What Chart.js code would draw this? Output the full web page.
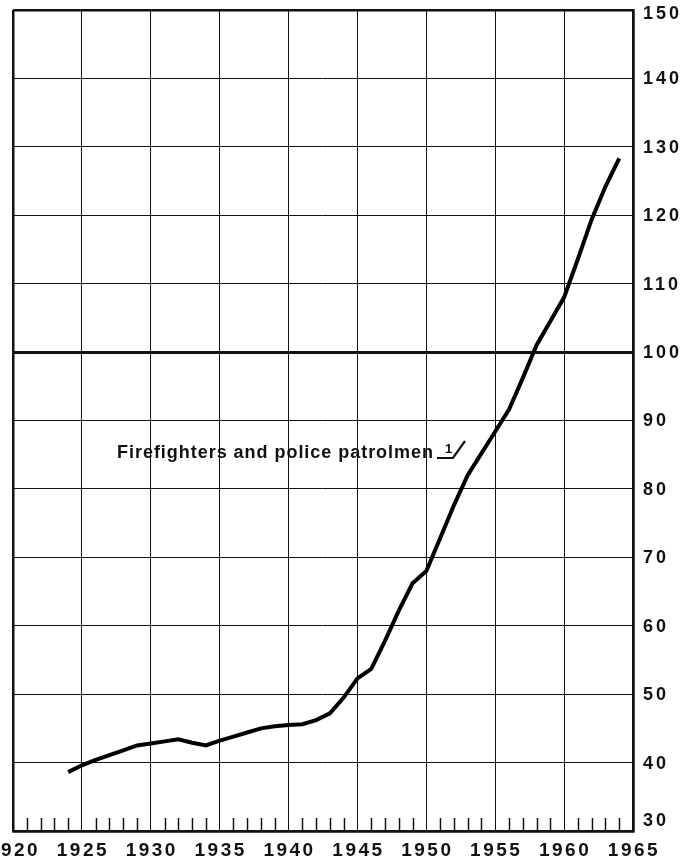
<!DOCTYPE html>
<html>
<head>
<meta charset="utf-8">
<script src="https://cdn.jsdelivr.net/npm/chart.js@4"></script>
<style>
  html, body { margin: 0; padding: 0; background: #fff; }
  #wrap { width: 691px; height: 864px; }
</style>
</head>
<body>
<div id="wrap"><canvas id="chart" width="691" height="864"></canvas></div>
<script>
// index values, firefighters and police patrolmen
const years = [1924, 1925, 1926, 1927, 1928, 1929, 1930, 1931, 1932, 1933, 1934,
               1935, 1936, 1937, 1938, 1939, 1940, 1941, 1942, 1943, 1944,
               1945, 1946, 1947, 1948, 1949, 1950, 1951, 1952, 1953, 1954,
               1955, 1956, 1957, 1958, 1959, 1960, 1961, 1962, 1963, 1964];
const values = [38.6, 39.6, 40.4, 41.1, 41.8, 42.5, 42.8, 43.1, 43.4, 42.9, 42.5,
                43.2, 43.8, 44.4, 45.0, 45.3, 45.5, 45.6, 46.2, 47.2, 49.5,
                52.3, 53.7, 57.8, 62.2, 66.2, 68.0, 72.8, 77.6, 82.0, 85.2,
                88.4, 91.6, 96.2, 101.0, 104.5, 108.0, 113.6, 119.4, 124.2, 128.3];
const xTickLabels = ['1920', '1925', '1930', '1935', '1940', '1945', '1950', '1955', '1960', '1965'];
const yTickLabels = ['30', '40', '50', '60', '70', '80', '90', '100', '110', '120', '130', '140', '150'];
const seriesLabel = 'Firefighters and police patrolmen';

const points = years.map((yr, i) => ({ x: yr, y: values[i] }));

// bottom minor ticks, labels and annotation
const paperPlugin = {
    id: 'paper',
    afterDraw: (chart) => {
        const { ctx, chartArea, scales: { x, y } } = chart;
        ctx.save();
        ctx.strokeStyle = '#111';
        ctx.lineWidth = 1.5;
        // yearly ticks at the bottom
        for (let yr = 1921; yr < 1965; yr++) {
            if (yr % 5 === 0) continue;
            const px = Math.round(x.getPixelForValue(yr)) + 0.5;
            ctx.beginPath();
            ctx.moveTo(px, chartArea.bottom);
            ctx.lineTo(px, chartArea.bottom - 13);
            ctx.stroke();
        }

        ctx.fillStyle = '#111';
        ctx.textBaseline = 'middle';
        // x labels
        ctx.font = 'bold 19px "Liberation Sans", Arial, sans-serif';
        ctx.letterSpacing = '2.5px';
        ctx.textAlign = 'center';
        xTickLabels.forEach((t) => {
            ctx.fillText(t, x.getPixelForValue(Number(t)) + 1, chartArea.bottom + 20);
        });
        // y labels on the right
        ctx.font = 'bold 18px "Liberation Sans", Arial, sans-serif';
        ctx.letterSpacing = '3px';
        ctx.textAlign = 'left';
        yTickLabels.forEach((t) => {
            let py = y.getPixelForValue(Number(t));
            if (t === '30') py -= 11;
            if (t === '150') py += 3;
            ctx.fillText(t, chartArea.right + 10, py + 1);
        });

        // series label
        ctx.font = 'bold 18px "Liberation Sans Narrow", "Liberation Sans", Arial, sans-serif';
        ctx.letterSpacing = '0px';
        const w = ctx.measureText(seriesLabel).width;
        const sp = (316 - w) / (seriesLabel.length - 1);
        ctx.letterSpacing = sp + 'px';
        ctx.textBaseline = 'alphabetic';
        ctx.fillText(seriesLabel, 117, 458);
        // footnote mark 1/
        ctx.letterSpacing = '0px';
        ctx.font = 'bold 13px "Liberation Sans", Arial, sans-serif';
        ctx.fillText('1', 445, 453);
        ctx.lineWidth = 2.2;
        ctx.beginPath();
        ctx.moveTo(437, 458);
        ctx.lineTo(453, 458);
        ctx.lineTo(465, 441);
        ctx.stroke();
        ctx.restore();
    }
};

new Chart(document.getElementById('chart').getContext('2d'), {
    type: 'line',
    data: {
        datasets: [{
            label: seriesLabel,
            data: points,
            borderColor: '#000',
            borderWidth: 4,
            pointRadius: 0,
            tension: 0,
            fill: false
        }]
    },
    options: {
        responsive: false,
        animation: false,
        layout: { padding: { left: 13, right: 58, top: 10, bottom: 33 } },
        plugins: { legend: { display: false }, tooltip: { enabled: false } },
        scales: {
            x: {
                type: 'linear',
                min: 1920,
                max: 1965,
                ticks: { display: false, stepSize: 5 },
                grid: {
                    drawTicks: false,
                    color: '#111',
                    lineWidth: (c) => (c.tick && (c.tick.value === 1920 || c.tick.value === 1965)) ? 2.5 : 1
                },
                border: { display: true, color: '#111', width: 2.5 }
            },
            y: {
                position: 'right',
                min: 30,
                max: 150,
                ticks: { display: false, stepSize: 10 },
                grid: {
                    drawTicks: false,
                    color: '#111',
                    lineWidth: (c) => {
                        if (!c.tick) return 1;
                        if (c.tick.value === 100) return 3;
                        if (c.tick.value === 150 || c.tick.value === 30) return 2.5;
                        return 1;
                    }
                },
                border: { display: true, color: '#111', width: 2.5 }
            }
        }
    },
    plugins: [paperPlugin]
});
</script>
</body>
</html>
